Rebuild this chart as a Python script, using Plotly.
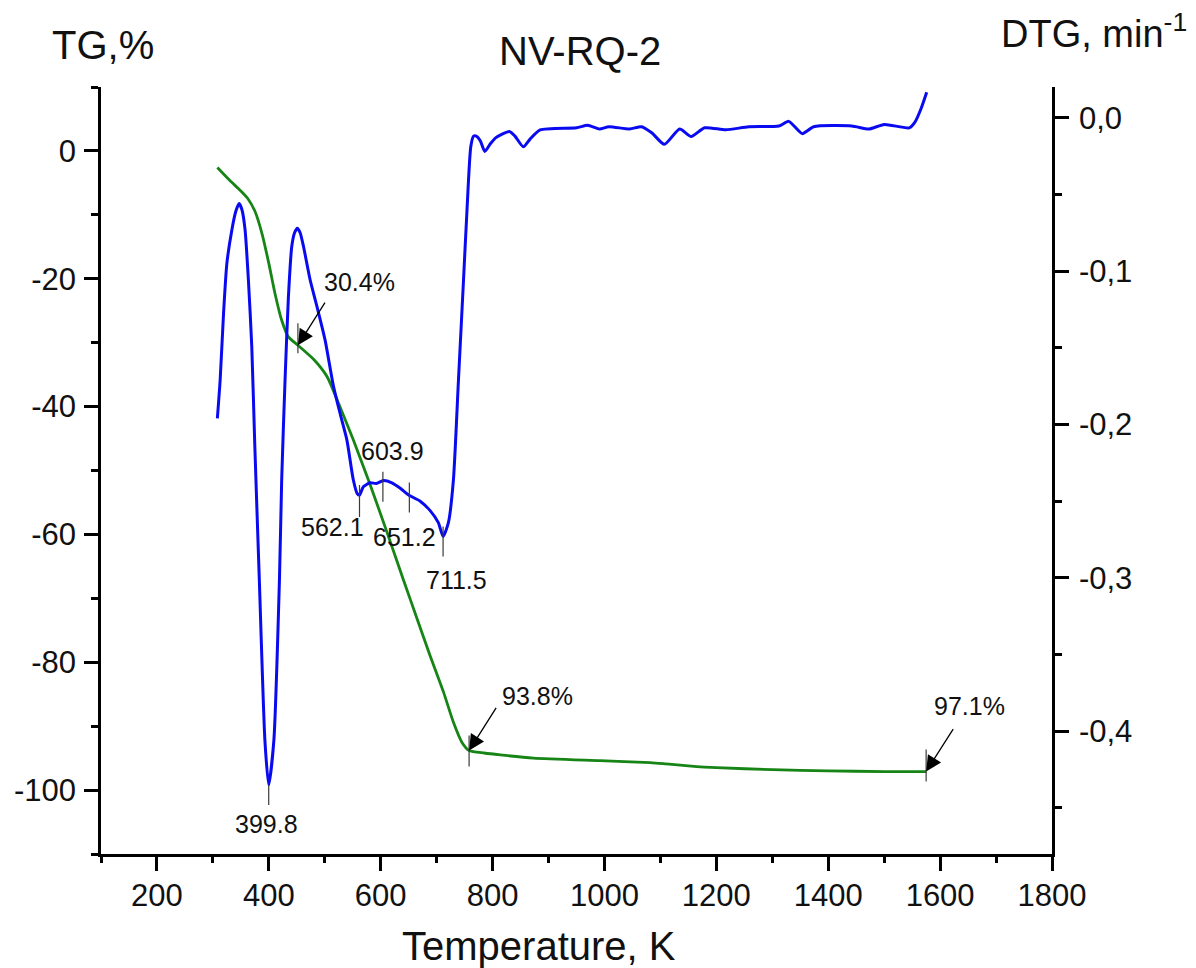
import numpy as np
import plotly.graph_objects as go

# ---------------- data ----------------
tg_T = [308, 330, 348, 362, 375, 388, 400, 411, 423, 435, 452, 480, 504, 527, 551, 581,
        611, 641, 665, 688, 712, 730, 745, 758, 785, 814, 873, 992, 1082, 1110, 1150,
        1200, 1300, 1400, 1500, 1575]
tg_val = [-2.6, -4.6, -6.1, -7.4, -9.4, -13.0, -17.6, -22.3, -26.5, -29.1, -30.4, -32.6,
          -35.3, -40.0, -45.2, -52.2, -59.6, -67.2, -73.2, -78.9, -84.6, -89.4, -92.5,
          -93.8, -94.2, -94.5, -95.0, -95.4, -95.7, -95.9, -96.2, -96.5, -96.8, -97.0,
          -97.1, -97.1]

dtg_T = [308, 313, 319, 325, 334, 341, 347, 352, 357.5, 363.5, 369.5, 375, 383, 393,
         399.8, 409, 419, 423, 429, 435, 441, 446, 451, 456, 462, 474, 486, 500.6,
         515.5, 527.5, 539.5, 551, 558, 562.1, 569, 581, 592, 605, 620, 635, 650, 670.6,
         688, 703, 711.5, 721, 730, 739, 748, 754, 761, 766, 771, 778, 786, 796, 806,
         830, 840, 855, 867, 885, 950, 970, 991, 1008, 1045, 1066, 1085, 1107, 1134.5,
         1155, 1179, 1217, 1258, 1312, 1329.5, 1353.5, 1374, 1442, 1473, 1500, 1545,
         1555, 1566, 1576]
dtg_val = [-0.196, -0.171, -0.128, -0.095, -0.073, -0.061, -0.056, -0.060, -0.073, -0.106,
           -0.149, -0.2145, -0.301, -0.406, -0.435, -0.406, -0.301, -0.236, -0.171, -0.117,
           -0.084, -0.075, -0.072, -0.075, -0.084, -0.106, -0.123, -0.145, -0.175, -0.193,
           -0.210, -0.236, -0.245, -0.246, -0.2406, -0.238, -0.2385, -0.2365, -0.238,
           -0.2416, -0.246, -0.250, -0.256, -0.264, -0.273, -0.264, -0.236, -0.171, -0.106,
           -0.062, -0.019, -0.012, -0.012, -0.015, -0.022, -0.017, -0.013, -0.009, -0.012,
           -0.019, -0.014, -0.008, -0.0066, -0.0049, -0.0074, -0.0059, -0.0074, -0.0059,
           -0.010, -0.0174, -0.0074, -0.0123, -0.0066, -0.0079, -0.0059, -0.0054, -0.0024,
           -0.0104, -0.0059, -0.0054, -0.0074, -0.0044, -0.0066, -0.0029, 0.006, 0.0166]

dtg_peak_T = [399.8, 562.1, 603.9, 651.2, 711.5]
tg_mark_T = [452.0, 758.0, 1575.0]
tg_mark_loss = [30.4, 93.8, 97.1]

x_ticks = [200, 400, 600, 800, 1000, 1200, 1400, 1600, 1800]
tg_ticks = [0, -20, -40, -60, -80, -100]
tg_tick_labels = ["0", "-20", "-40", "-60", "-80", "-100"]
dtg_ticks = [0.0, -0.1, -0.2, -0.3, -0.4]
dtg_tick_labels = ["0,0", "-0,1", "-0,2", "-0,3", "-0,4"]

# ---------------- styles ----------------
FONT = "Liberation Sans, Arial, sans-serif"
BLUE = "#0a0af0"
GREEN = "#168516"
TICKF = 31
ANNF = 25
TITLEF = 40

fig = go.Figure()
fig.add_trace(go.Scatter(x=tg_T, y=tg_val, mode="lines", yaxis="y",
                         line=dict(color=GREEN, width=2.8, shape="spline", smoothing=0.6),
                         showlegend=False, hoverinfo="skip"))
fig.add_trace(go.Scatter(x=dtg_T, y=dtg_val, mode="lines", yaxis="y2",
                         line=dict(color=BLUE, width=3, shape="spline", smoothing=0.6),
                         showlegend=False, hoverinfo="skip"))

shapes = []
annotations = []

# DTG peak markers and labels
dtg_up = [0, 10, 9, 13, 10]
dtg_down = [20, 22, 21, 17, 20]
dtg_xshift = [-2, -27, 10, -5, 13]
dtg_yshift = [-39, -32, 30, -42, -44]
for i, T in enumerate(dtg_peak_T):
    d = float(np.interp(T, dtg_T, dtg_val))
    shapes.append(dict(type="line", xref="x", yref="y2", x0=T, x1=T,
                       ysizemode="pixel", yanchor=d, y0=dtg_up[i], y1=-dtg_down[i],
                       line=dict(color="#3a3a3a", width=1.2)))
    annotations.append(dict(x=T, y=d, xref="x", yref="y2", text=f"{T:.1f}",
                            showarrow=False, xshift=dtg_xshift[i], yshift=dtg_yshift[i],
                            font=dict(family=FONT, size=ANNF, color="#111111")))

# TG mass-loss markers
tg_up = [22, 15, 22]
tg_down = [8, 16, 10]
tg_xshift = [62, 68, 43]
tg_yshift = [63, 54, 66]
for i, T in enumerate(tg_mark_T):
    v = float(np.interp(T, tg_T, tg_val))
    shapes.append(dict(type="line", xref="x", yref="y", x0=T, x1=T,
                       ysizemode="pixel", yanchor=v, y0=tg_up[i], y1=-tg_down[i],
                       line=dict(color="#3a3a3a", width=1.2)))
    annotations.append(dict(x=T, y=v, xref="x", yref="y", text="", showarrow=True,
                            ax=28, ay=-44, arrowhead=2, arrowsize=2.4, arrowwidth=1.3,
                            arrowcolor="black", standoff=0))
    annotations.append(dict(x=T, y=v, xref="x", yref="y", text=f"{tg_mark_loss[i]:.1f}%",
                            showarrow=False, xshift=tg_xshift[i], yshift=tg_yshift[i],
                            font=dict(family=FONT, size=ANNF, color="#111111")))

# titles
annotations.append(dict(text="NV-RQ-2", xref="paper", yref="paper", x=0.5037, y=1.047,
                        xanchor="center", yanchor="middle", showarrow=False,
                        font=dict(family=FONT, size=TITLEF, color="#111111")))
annotations.append(dict(text="TG,%", xref="paper", yref="paper", x=0.0021, y=1.0554,
                        xanchor="center", yanchor="middle", showarrow=False,
                        font=dict(family=FONT, size=TITLEF, color="#111111")))
annotations.append(dict(text="DTG, min<sup>-1</sup>", xref="paper", yref="paper",
                        x=0.9445, y=1.0735, xanchor="left", yanchor="middle", showarrow=False,
                        font=dict(family=FONT, size=38, color="#111111")))
annotations.append(dict(text="Temperature, K", xref="paper", yref="paper", x=0.4606,
                        y=-0.1200, xanchor="center", yanchor="middle", showarrow=False,
                        font=dict(family=FONT, size=TITLEF, color="#111111")))

axis_common = dict(showgrid=False, zeroline=False, showline=True, linecolor="black",
                   linewidth=2.5, ticks="outside", ticklen=14, tickwidth=2.5,
                   tickcolor="black",
                   tickfont=dict(family=FONT, size=TICKF, color="#111111"))

fig.update_layout(
    width=1196, height=968,
    margin=dict(l=101, r=144, t=87, b=114, autoexpand=False),
    paper_bgcolor="white", plot_bgcolor="white",
    font=dict(family=FONT, color="#111111"),
    xaxis=dict(range=[100, 1800], tickmode="array", tickvals=x_ticks,
               minor=dict(dtick=100, tick0=0, ticks="outside", ticklen=6, tickwidth=2.5,
                          tickcolor="black"),
               ticklabelstandoff=-2, **axis_common),
    yaxis=dict(range=[-110, 10], tickmode="array", tickvals=tg_ticks,
               ticktext=tg_tick_labels,
               minor=dict(dtick=10, tick0=0, ticks="outside", ticklen=7, tickwidth=2.5,
                          tickcolor="black"),
               ticklabelstandoff=2, **axis_common),
    yaxis2=dict(range=[-0.48, 0.02], overlaying="y", side="right", anchor="x",
                tickmode="array", tickvals=dtg_ticks, ticktext=dtg_tick_labels,
                minor=dict(dtick=0.05, tick0=0, ticks="outside", ticklen=7, tickwidth=2.5,
                           tickcolor="black"),
                ticklabelstandoff=4, **axis_common),
    shapes=shapes,
    annotations=annotations,
)

fig.write_html("out.html", config={"displayModeBar": False},
               post_script="document.body.style.margin='0';document.body.style.overflow='hidden';")
